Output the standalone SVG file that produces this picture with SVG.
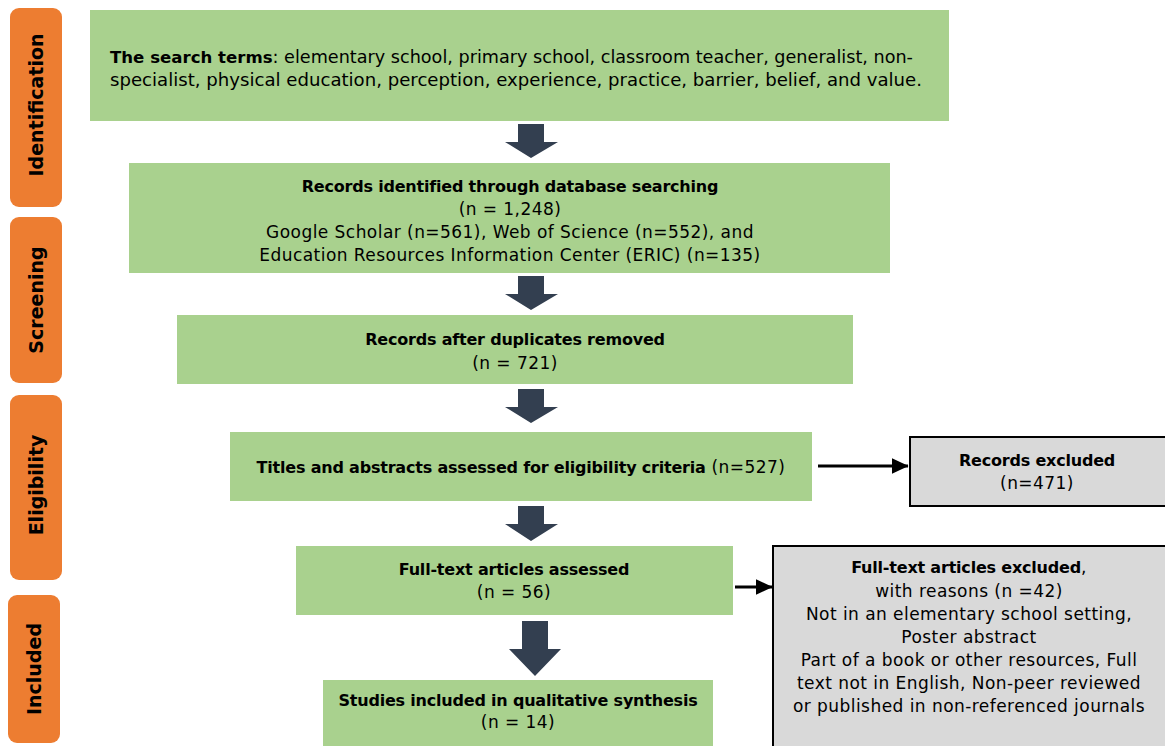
<svg xmlns="http://www.w3.org/2000/svg" width="1165" height="746" viewBox="0 0 1165 746">
<style>
.stage{fill:#ED7D31}
.stxt{font-family:"DejaVu Sans",sans-serif;font-size:19px;font-weight:bold;fill:#000;text-anchor:middle;dominant-baseline:central}
.g{fill:#A9D18E}
.x{fill:#D9D9D9;stroke:#000;stroke-width:2}
.t{font-family:"DejaVu Sans",sans-serif;font-size:17px;letter-spacing:0.45px;fill:#000;text-anchor:middle}
.b{font-weight:bold;font-size:16px;letter-spacing:-0.2px}
.down{fill:#333F50}
.conn{stroke:#000;stroke-width:3;fill:none}
</style>
<defs>
<marker id="ah" markerWidth="6" markerHeight="6" refX="5.5" refY="3" orient="auto" markerUnits="strokeWidth">
<path d="M0,0.3 L5.7,3 L0,5.7 Z" fill="#000"/>
</marker>
</defs>
<g id="stage-identification"><rect class="stage" x="10" y="8" width="52" height="199" rx="9"/><text class="stxt" transform="translate(36,105) rotate(-90)">Identification</text></g>
<g id="stage-screening"><rect class="stage" x="10" y="217" width="52" height="166" rx="9"/><text class="stxt" transform="translate(36,300) rotate(-90)">Screening</text></g>
<g id="stage-eligibility"><rect class="stage" x="10" y="395" width="52" height="185" rx="9"/><text class="stxt" transform="translate(36,485) rotate(-90)">Eligibility</text></g>
<g id="stage-included"><rect class="stage" x="8" y="595" width="52" height="148" rx="9"/><text class="stxt" transform="translate(34,669) rotate(-90)">Included</text></g>

<g id="search-terms"><rect class="g" x="90" y="10" width="859" height="111"/>
<text class="t" style="text-anchor:start;letter-spacing:0" x="110" y="63" textLength="803" lengthAdjust="spacingAndGlyphs"><tspan class="b" style="letter-spacing:0">The search terms</tspan>: elementary school, primary school, classroom teacher, generalist, non-</text>
<text class="t" style="text-anchor:start;letter-spacing:0" x="110" y="86" textLength="812" lengthAdjust="spacingAndGlyphs">specialist, physical education, perception, experience, practice, barrier, belief, and value.</text></g>

<g id="records-identified"><rect class="g" x="129" y="163" width="761" height="110"/>
<text class="t b" x="510" y="192">Records identified through database searching</text>
<text class="t" x="510" y="215">(n = 1,248)</text>
<text class="t" x="510" y="238">Google Scholar (n=561), Web of Science (n=552), and</text>
<text class="t" x="510" y="261">Education Resources Information Center (ERIC) (n=135)</text></g>

<g id="duplicates-removed"><rect class="g" x="177" y="315" width="676" height="69"/>
<text class="t b" x="515" y="345">Records after duplicates removed</text>
<text class="t" x="515" y="369">(n = 721)</text></g>

<g id="titles-abstracts"><rect class="g" x="230" y="432" width="582" height="69"/>
<text class="t" x="521" y="473"><tspan class="b">Titles and abstracts assessed for eligibility criteria</tspan> (n=527)</text></g>

<g id="records-excluded"><rect class="x" x="910" y="437" width="258" height="69"/>
<text class="t b" x="1037" y="466">Records excluded</text>
<text class="t" x="1037" y="489">(n=471)</text></g>

<g id="fulltext-assessed"><rect class="g" x="296" y="546" width="437" height="69"/>
<text class="t b" x="514" y="575">Full-text articles assessed</text>
<text class="t" x="514" y="598">(n = 56)</text></g>

<g id="fulltext-excluded"><rect class="x" x="773" y="546" width="395" height="205"/>
<text class="t" x="969" y="573"><tspan class="b">Full-text articles excluded</tspan>,</text>
<text class="t" x="969" y="597">with reasons (n =42)</text>
<text class="t" x="969" y="620">Not in an elementary school setting,</text>
<text class="t" x="969" y="643">Poster abstract</text>
<text class="t" x="969" y="666">Part of a book or other resources, Full</text>
<text class="t" x="969" y="689">text not in English, Non-peer reviewed</text>
<text class="t" x="969" y="712">or published in non-referenced journals</text></g>

<g id="studies-included"><rect class="g" x="323" y="680" width="390" height="66"/>
<text class="t b" x="518" y="706">Studies included in qualitative synthesis</text>
<text class="t" x="518" y="728">(n = 14)</text></g>

<g id="connectors">
<polygon class="down" points="518,124 544,124 544,142 558,142 531,158 505,142 518,142"/>
<polygon class="down" points="518,276 544,276 544,294 558,294 531,310 505,294 518,294"/>
<polygon class="down" points="518,389 544,389 544,407 558,407 531,423 505,407 518,407"/>
<polygon class="down" points="518,506 544,506 544,524 558,524 531,541 505,524 518,524"/>
<polygon class="down" points="522,621 548,621 548,649 561,649 535,676 509,649 522,649"/>
<line class="conn" x1="818" y1="466" x2="908" y2="466" marker-end="url(#ah)"/>
<line class="conn" x1="735" y1="587" x2="772" y2="587" marker-end="url(#ah)"/>
</g>
</svg>
